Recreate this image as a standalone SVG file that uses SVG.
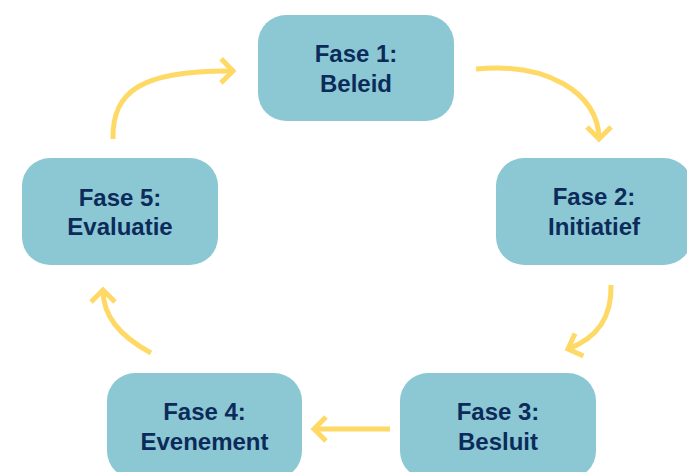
<svg xmlns="http://www.w3.org/2000/svg" width="687" height="472" viewBox="0 0 687 472">
  <style>
    .box { fill: #8bc8d4; }
    .lbl { font-family: "Liberation Sans", Arial, sans-serif; font-weight: bold; font-size: 24px; fill: #0c2b5a; text-anchor: middle; }
    .arr { fill: none; stroke: #ffd966; stroke-width: 5; marker-end: url(#chev); }
  </style>
  <defs>
    <marker id="chev" markerUnits="userSpaceOnUse" viewBox="-16 -16 20 32" refX="0" refY="0" markerWidth="20" markerHeight="32" orient="auto" overflow="visible">
      <path d="M-12,-12 L0,0 L-12,12" fill="none" stroke="#ffd966" stroke-width="5"/>
    </marker>
  </defs>
  <rect width="687" height="472" fill="#ffffff"/>
  <g id="connectors">
    <path class="arr" d="M476,69 C545,62 599,92 599,139"/>
    <path class="arr" d="M611,285 C612,318 597,338 568,349"/>
    <path class="arr" d="M390,429 L314,429"/>
    <path class="arr" d="M151,353 C118,335 103,315 103,290"/>
    <path class="arr" d="M113,139 C112,92 140,70 233,71"/>
  </g>
  <g id="fase1">
    <rect class="box" x="258" y="15" width="196" height="106" rx="28"/>
    <text class="lbl" x="356" y="62">Fase 1:</text>
    <text class="lbl" x="356" y="92">Beleid</text>
  </g>
  <g id="fase2">
    <rect class="box" x="496" y="158" width="196" height="107" rx="28"/>
    <text class="lbl" x="594" y="205">Fase 2:</text>
    <text class="lbl" x="594" y="235">Initiatief</text>
  </g>
  <g id="fase3">
    <rect class="box" x="400" y="373" width="196" height="106" rx="28"/>
    <text class="lbl" x="498" y="420">Fase 3:</text>
    <text class="lbl" x="498" y="450">Besluit</text>
  </g>
  <g id="fase4">
    <rect class="box" x="107" y="373" width="195" height="106" rx="28"/>
    <text class="lbl" x="204.5" y="420">Fase 4:</text>
    <text class="lbl" x="204.5" y="450">Evenement</text>
  </g>
  <g id="fase5">
    <rect class="box" x="22" y="158" width="196" height="107" rx="28"/>
    <text class="lbl" x="120" y="206">Fase 5:</text>
    <text class="lbl" x="120" y="235">Evaluatie</text>
  </g>
</svg>
